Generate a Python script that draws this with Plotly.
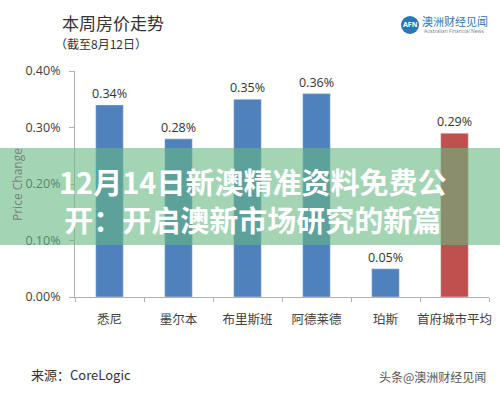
import plotly.graph_objects as go

cities = ["悉尼", "墨尔本", "布里斯班", "阿德莱德", "珀斯", "首府城市平均"]
changes = [0.34, 0.28, 0.35, 0.36, 0.05, 0.29]
bar_colors = ["#4f81bd", "#4f81bd", "#4f81bd", "#4f81bd", "#4f81bd", "#c0504d"]
y_ticks = [0.0, 0.1, 0.2, 0.3, 0.4]
headline = ["12月14日新澳精准资料免费公", "开：开启澳新市场研究的新篇"]

W, H = 500, 394
L, R, T, B = 75, 11, 71, 97
PW, PH = W - L - R, H - T - B

def px(x):
    return (x - L) / PW

def py(y):
    return (H - B - y) / PH

FONT = "Noto Sans CJK SC, Noto Sans, sans-serif"

fig = go.Figure(go.Bar(
    x=cities, y=changes, marker_color=bar_colors, width=0.4,
    text=[f"{v:.2f}%" for v in changes], textposition="outside",
    textfont=dict(size=12.5, color="#333333", family="Open Sans, Noto Sans CJK SC"),
    constraintext="none", cliponaxis=False, hoverinfo="skip",
))

fig.update_layout(
    width=W, height=H, margin=dict(l=L, r=R, t=T, b=B, autoexpand=False),
    paper_bgcolor="white", plot_bgcolor="white", showlegend=False,
    font=dict(family=FONT),
    xaxis=dict(showline=True, linecolor="#b0b0b0", linewidth=1, ticks="outside",
               tickson="boundaries", ticklen=4, tickcolor="#b0b0b0", tickangle=0,
               ticklabelstandoff=11, automargin=False,
               tickfont=dict(size=12.5, color="#404040", family=FONT), showgrid=False),
    yaxis=dict(range=[0, 0.4], tickvals=y_ticks, ticktext=[f"{v:.2f}%" for v in y_ticks],
               showline=True, linecolor="#b0b0b0", linewidth=1, ticks="outside",
               ticklen=5, tickcolor="#b0b0b0", showgrid=False, zeroline=False,
               ticklabelstandoff=6, automargin=False,
               tickfont=dict(size=12.5, color="#404040", family="Open Sans, Noto Sans")),
    bargap=0.6,
)

shapes = [
    dict(type="rect", xref="paper", yref="paper", x0=px(0), x1=px(500), y0=py(245), y1=py(148),
         fillcolor="rgba(102,183,130,0.6)", line=dict(width=0), layer="above"),
    dict(type="circle", xref="paper", yref="paper", x0=px(401), x1=px(419), y0=py(34), y1=py(16),
         fillcolor="#2e75b6", line=dict(width=0)),
]
fig.update_layout(shapes=shapes)

ann = []
def add(text, x, y, size, color, xanchor="left", bold=False, family=FONT, angle=0):
    t = f"<b>{text}</b>" if bold else text
    ann.append(dict(text=t, x=px(x), y=py(y), xref="paper", yref="paper", showarrow=False,
                    xanchor=xanchor, yanchor="middle", textangle=angle, align="center",
                    font=dict(size=size, color=color, family=family)))

add("本周房价走势", 60, 23, 17, "#333333")
add("（截至8月12日）", 53, 43, 12, "#333333")
add("Price Change", 17, 184, 12, "#7f7f7f", xanchor="center", angle=-90, family="Open Sans, Noto Sans")
add("来源：CoreLogic", 29, 374, 13, "#333333")
add("头条@澳洲财经见闻", 488, 376, 12, "#555555", xanchor="right")
add("AFN", 410, 25, 7, "white", xanchor="center", bold=True, family="Noto Sans")
add("澳洲财经见闻", 420, 21, 11, "#2e75b6")
add("Australian Financial News", 422, 31, 5, "#888888", family="Noto Sans")
add("<br>".join(headline), 252, 200, 29, "white", xanchor="center", bold=True)
fig.update_layout(annotations=ann)

fig.write_html("out.html", config={"displayModeBar": False},
               post_script="document.body.style.margin='0';document.body.style.overflow='hidden';")
